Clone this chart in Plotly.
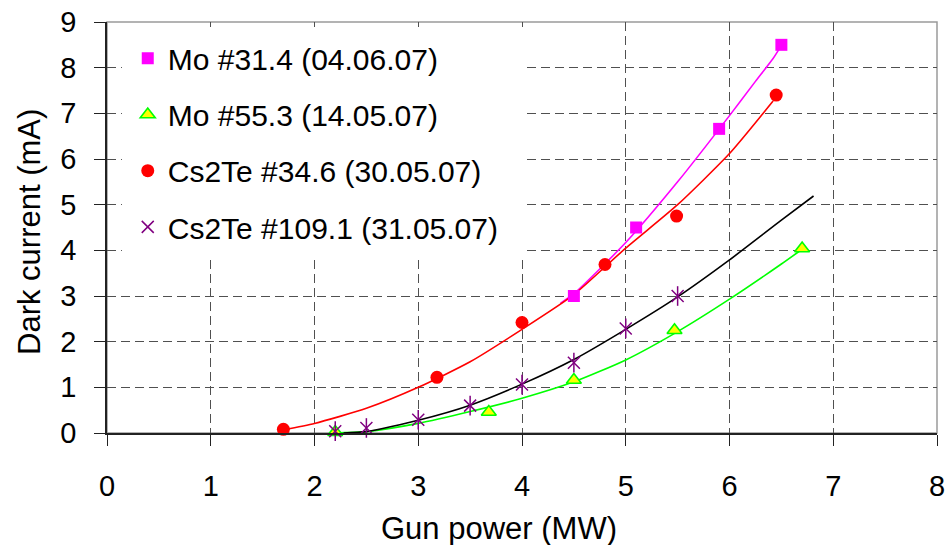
import plotly.graph_objects as go

# ---- data ----
mo314_x = [4.5, 5.1, 5.9, 6.5]
mo314_y = [3.0, 4.5, 6.66, 8.5]
mo553_x = [2.2, 3.68, 4.5, 5.47, 6.7]
mo553_y = [0.02, 0.46, 1.16, 2.25, 4.04]
cs346_x = [1.7, 3.18, 4.0, 4.8, 5.49, 6.45]
cs346_y = [0.08, 1.22, 2.42, 3.69, 4.75, 7.4]
cs1091_x = [2.2, 2.5, 3.0, 3.5, 4.0, 4.5, 5.0, 5.5]
cs1091_y = [0.04, 0.11, 0.29, 0.6, 1.06, 1.54, 2.29, 3.0]

# trend curves
fit_mo314_x = [4.37, 4.5, 5.0, 5.5, 6.0, 6.25, 6.42, 6.49]
fit_mo314_y = [2.84, 3.05, 4.17, 5.5, 6.95, 7.7, 8.2, 8.45]
fit_mo553_x = [2.18, 2.5, 3.0, 3.5, 4.0, 4.5, 5.0, 5.5, 6.0, 6.5, 6.71]
fit_mo553_y = [0.0, 0.03, 0.21, 0.47, 0.76, 1.12, 1.6, 2.22, 2.93, 3.7, 4.04]
fit_cs346_x = [1.7, 2.0, 2.5, 3.0, 3.5, 4.0, 4.5, 5.0, 5.5, 6.0, 6.42]
fit_cs346_y = [0.07, 0.21, 0.54, 1.0, 1.56, 2.27, 3.03, 4.05, 5.0, 6.12, 7.27]
fit_cs1091_x = [2.28, 2.5, 3.0, 3.5, 4.0, 4.5, 5.0, 5.5, 6.0, 6.5, 6.81]
fit_cs1091_y = [0.0, 0.03, 0.28, 0.61, 1.07, 1.61, 2.27, 2.98, 3.79, 4.66, 5.19]

x_ticks = [0, 1, 2, 3, 4, 5, 6, 7, 8]
y_ticks = [0, 1, 2, 3, 4, 5, 6, 7, 8, 9]

names = ["Mo #31.4 (04.06.07)", "Mo #55.3 (14.05.07)",
         "Cs2Te #34.6 (30.05.07)", "Cs2Te #109.1 (31.05.07)"]

FONT = "Liberation Sans, Arial, sans-serif"

fig = go.Figure()

# curves (no legend)
for fx, fy, col in [(fit_mo314_x, fit_mo314_y, "#FF00FF"),
                    (fit_mo553_x, fit_mo553_y, "#00FF00"),
                    (fit_cs346_x, fit_cs346_y, "#FF0000"),
                    (fit_cs1091_x, fit_cs1091_y, "#000000")]:
    fig.add_trace(go.Scatter(x=fx, y=fy, mode="lines", showlegend=False,
                             line=dict(color=col, width=1.6, shape="spline", smoothing=0.6),
                             cliponaxis=False, hoverinfo="skip"))

fig.add_trace(go.Scatter(x=mo314_x, y=mo314_y, mode="markers", name=names[0],
                         legendgroup="a", cliponaxis=False,
                         marker=dict(symbol="square", size=12, color="#FF00FF",
                                     line=dict(width=0))))
fig.add_trace(go.Scatter(x=mo553_x, y=mo553_y, mode="markers", name=names[1],
                         legendgroup="b", cliponaxis=False,
                         marker=dict(symbol="triangle-up", size=13, color="#FFFF00",
                                     line=dict(width=1.6, color="#00FF00"))))
fig.add_trace(go.Scatter(x=cs346_x, y=cs346_y, mode="markers", name=names[2],
                         legendgroup="c", cliponaxis=False,
                         marker=dict(symbol="circle", size=13, color="#FF0000",
                                     line=dict(width=0))))
fig.add_trace(go.Scatter(x=cs1091_x, y=cs1091_y, mode="markers", name=names[3],
                         legendgroup="d", cliponaxis=False,
                         marker=dict(symbol="x-thin-open", size=12, color="#800080",
                                     line=dict(width=1.5, color="#800080"))))
fig.add_trace(go.Scatter(x=cs1091_x, y=cs1091_y, mode="markers", showlegend=False,
                         legendgroup="d", cliponaxis=False,
                         marker=dict(symbol="line-ns-open", size=14, color="#800080",
                                     line=dict(width=1.5, color="#800080"))))

# plot frame (grey top/right)
fig.add_shape(type="rect", xref="paper", yref="paper", x0=0, x1=1, y0=0, y1=1,
              line=dict(color="#9a9a9a", width=1.5), layer="below")
# white legend box background (covers grid behind the legend)
fig.add_shape(type="rect", xref="paper", yref="paper", x0=0.018, x1=0.506,
              y0=0.43, y1=0.988, line=dict(width=0), fillcolor="white", layer="above")

fig.add_annotation(text="Gun power (MW)", xref="paper", yref="paper",
                   x=0.472, y=-0.233, showarrow=False,
                   font=dict(family=FONT, size=31, color="black"),
                   xanchor="center", yanchor="middle")
fig.add_annotation(text="Dark current (mA)", xref="paper", yref="paper",
                   x=-0.094, y=0.489, showarrow=False, textangle=-90,
                   font=dict(family=FONT, size=31, color="black"),
                   xanchor="center", yanchor="middle")

fig.update_layout(
    width=946, height=545,
    margin=dict(l=107, r=9, t=22, b=112, autoexpand=False),
    paper_bgcolor="white", plot_bgcolor="white",
    font=dict(family=FONT, color="black"),
    showlegend=True,
    legend=dict(x=0.025, y=0.975, xanchor="left", yanchor="top",
                bgcolor="rgba(255,255,255,0)", borderwidth=0,
                font=dict(family=FONT, size=30, color="black"),
                tracegroupgap=14.2, itemsizing="trace"),
    xaxis=dict(range=[0, 8], tickvals=x_ticks, ticktext=[str(v) for v in x_ticks],
               showgrid=True, gridcolor="#505050", griddash="9px,5px", gridwidth=1,
               zeroline=False, showline=True, linecolor="#222222", linewidth=1.6,
               ticks="outside", ticklen=11, tickcolor="#222222", tickwidth=1.3,
               ticklabelstandoff=15, automargin=False,
               tickfont=dict(family=FONT, size=29, color="black"), fixedrange=True),
    yaxis=dict(range=[0, 9], tickvals=y_ticks, ticktext=[str(v) for v in y_ticks],
               showgrid=True, gridcolor="#505050", griddash="9px,5px", gridwidth=1,
               zeroline=False, showline=True, linecolor="#222222", linewidth=1.6,
               ticks="outside", ticklen=11, tickcolor="#222222", tickwidth=1.3,
               ticklabelstandoff=12, automargin=False,
               tickfont=dict(family=FONT, size=29, color="black"), fixedrange=True),
)

fig.write_html("out.html")
